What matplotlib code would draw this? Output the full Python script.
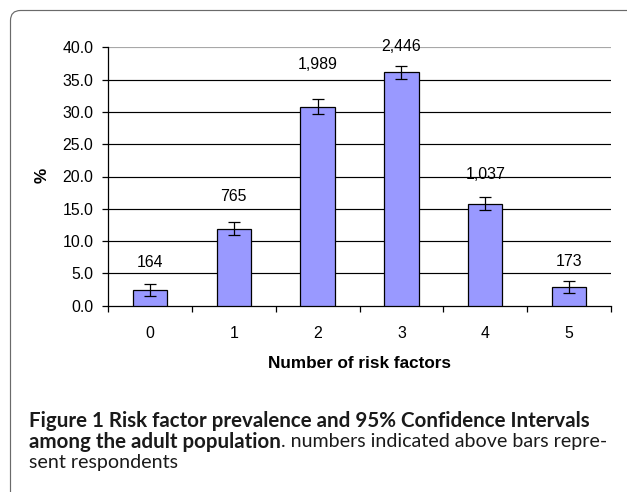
import matplotlib
matplotlib.use('Agg')
import matplotlib.pyplot as plt
from matplotlib.patches import FancyBboxPatch

# ---- data ----
categories = ['0', '1', '2', '3', '4', '5']
prevalence = [2.4, 11.9, 30.8, 36.1, 15.8, 2.9]
ci_lower = [1.5, 10.9, 29.7, 35.1, 14.8, 2.0]
ci_upper = [3.4, 12.9, 32.0, 37.1, 16.8, 3.9]
respondents = ['164', '765', '1,989', '2,446', '1,037', '173']
ytick_values = [0, 5, 10, 15, 20, 25, 30, 35, 40]

# ---- layout constants (pixels above the CI upper end, manual placement) ----
label_offset_px = [21, 26, 34, 20, 23, 19]

W, H, DPI = 627, 492, 100
fig = plt.figure(figsize=(W / DPI, H / DPI), dpi=DPI)
fig.patch.set_facecolor('white')

ax_left, ax_right = 108 / W, 611 / W
ax_bottom, ax_top = 1 - 305.7 / H, 1 - 47.3 / H
ax = fig.add_axes([ax_left, ax_bottom, ax_right - ax_left, ax_top - ax_bottom])

chart_font = 'Liberation Sans'
fs = 11.4

x = list(range(len(categories)))
err_low = [p - l for p, l in zip(prevalence, ci_lower)]
err_high = [u - p for p, u in zip(prevalence, ci_upper)]

ax.bar(x, prevalence, width=0.41, color='#9999ff', edgecolor='black',
       linewidth=0.9, zorder=3)
ax.errorbar(x, prevalence, yerr=[err_low, err_high], fmt='none',
            ecolor='black', elinewidth=0.9, capsize=4.2, capthick=0.9, zorder=4)

ax.set_xlim(-0.5, len(categories) - 0.5)
ax.set_ylim(0, 40)

# gridlines
for v in ytick_values[1:]:
    ax.axhline(v, color='black' if v < 40 else '#a8a8a8', lw=0.85, zorder=1)

for s in ['top', 'right']:
    ax.spines[s].set_visible(False)
for s in ['left', 'bottom']:
    ax.spines[s].set_color('black')
    ax.spines[s].set_linewidth(0.9)

ax.set_yticks(ytick_values)
ax.set_yticklabels([f'{v:.1f}' for v in ytick_values], fontfamily=chart_font,
                   fontsize=fs)
ax.tick_params(axis='y', direction='out', length=4, width=0.9, pad=6.5)

# x: boundary ticks (major) + centered labels (minor)
ax.set_xticks([i - 0.5 for i in range(len(categories) + 1)])
ax.set_xticklabels([])
ax.set_xticks(x, minor=True)
ax.set_xticklabels(categories, minor=True, fontfamily=chart_font, fontsize=fs)
ax.tick_params(axis='x', which='major', direction='out', length=4, width=0.9)
ax.tick_params(axis='x', which='minor', length=0, pad=14.5)

# labels above bars
for xi, up, lab, off in zip(x, ci_upper, respondents, label_offset_px):
    ax.annotate(lab, xy=(xi, up), xytext=(0, off * 72 / DPI),
                textcoords='offset points', ha='center', va='center',
                fontfamily=chart_font, fontsize=fs, annotation_clip=False)

ax.set_xlabel('Number of risk factors', fontfamily=chart_font, fontsize=12.3,
              fontweight='bold')
ax.xaxis.set_label_coords(0.5, -0.222)
ax.xaxis.label.set_va('center')
ax.set_ylabel('%', fontfamily=chart_font, fontsize=12.3, fontweight='bold')
ax.yaxis.set_label_coords(-0.131, 0.506)
ax.yaxis.label.set_va('center')

# ---- frame with rounded corner (cropped on right/bottom) ----
frame = FancyBboxPatch((10.5, -40), 700, 481.5 + 40,
                       boxstyle='round,pad=0,rounding_size=10',
                       transform=None, facecolor='none', edgecolor='#6a6a6a',
                       linewidth=0.85)
fig.add_artist(frame)

# ---- caption ----
cap_font = 'Lato'
cap_color = '#1a1a1a'
x0 = 29 / W
base = [1 - 427 / H, 1 - 447.5 / H, 1 - 468 / H]

fig.canvas.draw()
r = fig.canvas.get_renderer()
cfs = 13.0
t1 = fig.text(x0, base[0], 'Figure 1 Risk factor prevalence and 95% Confidence Intervals',
              fontfamily=cap_font, fontweight='bold', fontsize=cfs, color=cap_color,
              va='baseline', ha='left')
w1 = t1.get_window_extent(r).width
cfs = cfs * (588 - 29) / w1
t1.set_fontsize(cfs)

t2a = fig.text(x0, base[1], 'among the adult population', fontfamily=cap_font,
               fontweight='bold', fontsize=cfs, color=cap_color, va='baseline', ha='left')
fig.canvas.draw()
bb = t2a.get_window_extent(r)
rest = '. numbers indicated above bars repre-'
t2b = fig.text(bb.x1 / W, base[1], rest, fontfamily=cap_font, fontsize=cfs,
               color=cap_color, va='baseline', ha='left')
w2 = t2b.get_window_extent(r).width
rfs = cfs * min(1.0, (608 - bb.x1) / w2)
t2b.set_fontsize(rfs)
t3 = fig.text(x0, base[2], 'sent respondents', fontfamily=cap_font, fontsize=rfs,
              color=cap_color, va='baseline', ha='left')

fig.savefig('out.png', dpi=DPI)
